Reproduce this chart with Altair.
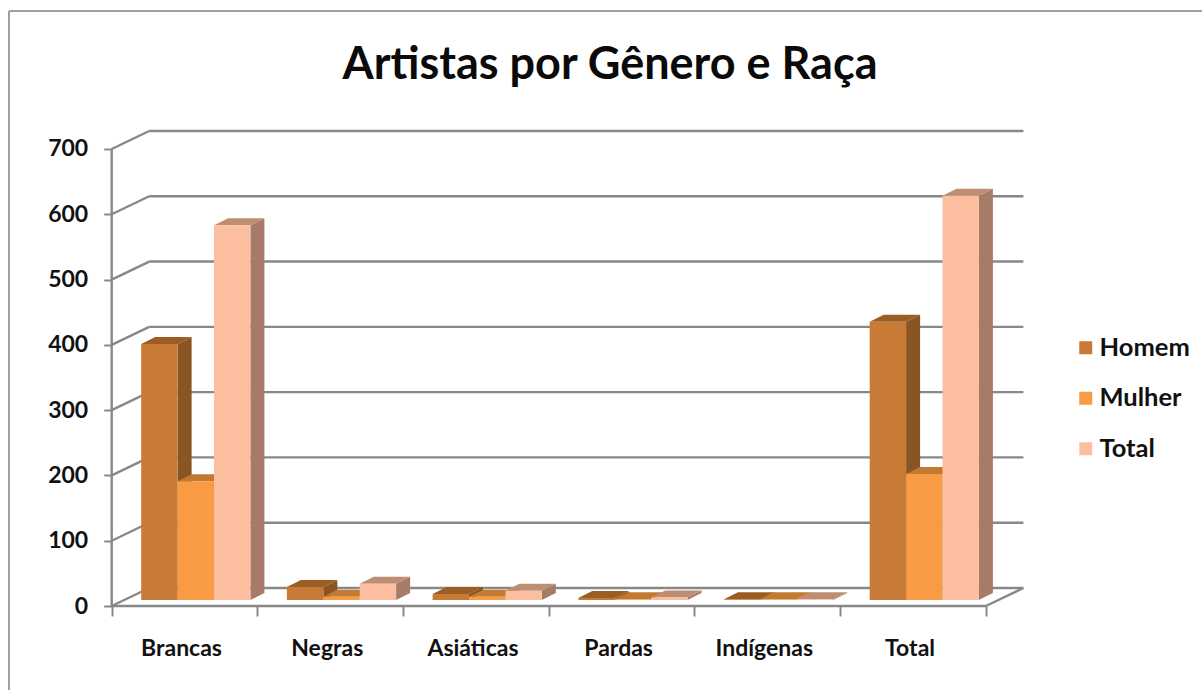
import altair as alt
import pandas as pd

# Chart values
categories = ["Brancas", "Negras", "Asiáticas", "Pardas", "Indígenas", "Total"]
series_names = ["Homem", "Mulher", "Total"]
homem = [392, 20, 9, 3, 1, 426]
mulher = [182, 5, 5, 1, 1, 193]
total = [574, 25, 14, 4, 1, 619]
y_ticks = [0, 100, 200, 300, 400, 500, 600, 700]

front_colors = ["#C87B36", "#F99A45", "#FBBFA0"]
side_colors = ["#8A5525", "#A8601E", "#A67B68"]
top_colors = ["#9A5E25", "#C27A30", "#BE8E72"]
grid_color = "#888888"
frame_color = "#A0A0A0"

# Pseudo-3D projection, in data units: one category is 1.0 wide on x
PX_X = 145.7
PX_Y = 0.6529
WALL_DX, WALL_DY = 37.5 / PX_X, 18 / PX_Y
BAR_DX, BAR_DY = 14 / PX_X, 7 / PX_Y
BAR_W = 36.4 / PX_X
BAR_LEFT = 29.5 / PX_X
BAR_BASE = 6 / PX_Y

# The view fills the page; the origin of the box sits inside it
VIEW_W, VIEW_H = 1202, 690
ORIGIN_X, ORIGIN_BOTTOM = 111.7, 84
x_min, x_max = -ORIGIN_X / PX_X, (VIEW_W - ORIGIN_X) / PX_X
y_min, y_max = -ORIGIN_BOTTOM / PX_Y, (VIEW_H - ORIGIN_BOTTOM) / PX_Y
x_scale = alt.Scale(domain=[x_min, x_max], nice=False, zero=False)
y_scale = alt.Scale(domain=[y_min, y_max], nice=False, zero=False)

# Walls and floor of the 3D box
rules = []
for v in y_ticks:
    rules.append(dict(x=WALL_DX, x2=6 + WALL_DX, y=v + WALL_DY, y2=v + WALL_DY))
    rules.append(dict(x=0, x2=WALL_DX, y=v, y2=v + WALL_DY))
rules.append(dict(x=0, x2=6, y=0, y2=0))
rules.append(dict(x=6, x2=6 + WALL_DX, y=0, y2=WALL_DY))
rules.append(dict(x=0, x2=0, y=0, y2=700))
walls = (
    alt.Chart(pd.DataFrame(rules))
    .mark_rule(color=grid_color, strokeWidth=2.4)
    .encode(
        x=alt.X(
            "x:Q",
            scale=x_scale,
            axis=alt.Axis(
                values=list(range(7)), labels=False, domain=False, grid=False,
                ticks=True, tickSize=10, tickColor=grid_color, tickWidth=2,
                title=None, offset=-ORIGIN_BOTTOM,
            ),
        ),
        x2="x2:Q",
        y=alt.Y(
            "y:Q",
            scale=y_scale,
            axis=alt.Axis(
                values=y_ticks, domain=False, grid=False, ticks=True, tickSize=8,
                tickColor=grid_color, tickWidth=2, title=None, offset=-ORIGIN_X,
                labelFont="Lato", labelFontWeight="bold", labelFontSize=23,
                labelColor="#111111", labelPadding=16,
            ),
        ),
        y2="y2:Q",
    )
)

# Outer chart frame: its top and left edges, the others run off the page
frame_x = x_min + 9 / PX_X
frame_y = y_max - 11 / PX_Y
frame = (
    alt.Chart(pd.DataFrame([
        dict(x=frame_x, x2=x_max, y=frame_y, y2=frame_y),
        dict(x=frame_x, x2=frame_x, y=y_min, y2=frame_y),
    ]))
    .mark_rule(color=frame_color, strokeWidth=2)
    .encode(
        x=alt.X("x:Q", scale=x_scale, axis=None),
        x2="x2:Q",
        y=alt.Y("y:Q", scale=y_scale, axis=None),
        y2="y2:Q",
    )
)

layers = [frame, walls]

# Each series: side and top faces first, then the front face over them
for s, (name, vals) in enumerate(zip(series_names, [homem, mulher, total])):
    side_rows, top_rows, front_rows = [], [], []
    for i, v in enumerate(vals):
        x0 = i + BAR_LEFT + s * BAR_W
        x1 = x0 + BAR_W
        h = BAR_BASE + v
        side_rows += [
            dict(cat=i, x=x1, lo=BAR_BASE, hi=h),
            dict(cat=i, x=x1 + BAR_DX, lo=BAR_BASE + BAR_DY, hi=h + BAR_DY),
        ]
        top_rows += [
            dict(cat=i, x=x0, lo=h, hi=h),
            dict(cat=i, x=x0 + BAR_DX, lo=h, hi=h + BAR_DY),
            dict(cat=i, x=x1, lo=h, hi=h + BAR_DY),
            dict(cat=i, x=x1 + BAR_DX, lo=h + BAR_DY, hi=h + BAR_DY),
        ]
        front_rows.append(dict(category=categories[i], serie=name, x=x0, x2=x1, y=BAR_BASE, y2=h))
    for rows, color in ((side_rows, side_colors[s]), (top_rows, top_colors[s])):
        layers.append(
            alt.Chart(pd.DataFrame(rows))
            .mark_area(color=color, orient="vertical")
            .encode(
                x=alt.X("x:Q", scale=x_scale, axis=None),
                y=alt.Y("lo:Q", scale=y_scale, axis=None, stack=None),
                y2="hi:Q",
                detail="cat:N",
            )
        )
    layers.append(
        alt.Chart(pd.DataFrame(front_rows))
        .mark_rect()
        .encode(
            x=alt.X("x:Q", scale=x_scale, axis=None),
            x2="x2:Q",
            y=alt.Y("y:Q", scale=y_scale, axis=None),
            y2="y2:Q",
            color=alt.Color(
                "serie:N",
                scale=alt.Scale(domain=series_names, range=front_colors),
                legend=alt.Legend(
                    title=None, orient="none", legendX=1073, legendY=335,
                    symbolType="square", symbolSize=169, symbolStrokeWidth=0,
                    labelFont="Lato", labelFontWeight="bold", labelFontSize=25.5,
                    labelColor="#111111", rowPadding=23.5, labelOffset=1, symbolOpacity=1,
                ),
            ),
        )
    )

# Category names under the floor line
cat_labels = (
    alt.Chart(pd.DataFrame({"category": categories, "x": [i + 0.5 for i in range(6)], "y": [0] * 6}))
    .mark_text(font="Lato", fontWeight="bold", fontSize=23, color="#111111", dy=43, dx=-3)
    .encode(
        x=alt.X("x:Q", scale=x_scale, axis=None),
        y=alt.Y("y:Q", scale=y_scale, axis=None),
        text="category:N",
    )
)
layers.append(cat_labels)

chart = (
    alt.layer(*layers)
    .resolve_axis(x="independent", y="independent")
    .properties(
        width=VIEW_W,
        height=VIEW_H,
        padding=0,
        autosize=alt.AutoSizeParams(type="none"),
        background="white",
        title=alt.TitleParams(
            "Artistas por Gênero e Raça",
            font="Lato", fontWeight="bold", fontSize=45, color="#0A0A0A",
            anchor="middle", dx=9, offset=-88, orient="top",
        ),
    )
    .configure_view(stroke=None, fill="white")
)

chart.save("out.html", embed_options={"renderer": "svg", "actions": False})
